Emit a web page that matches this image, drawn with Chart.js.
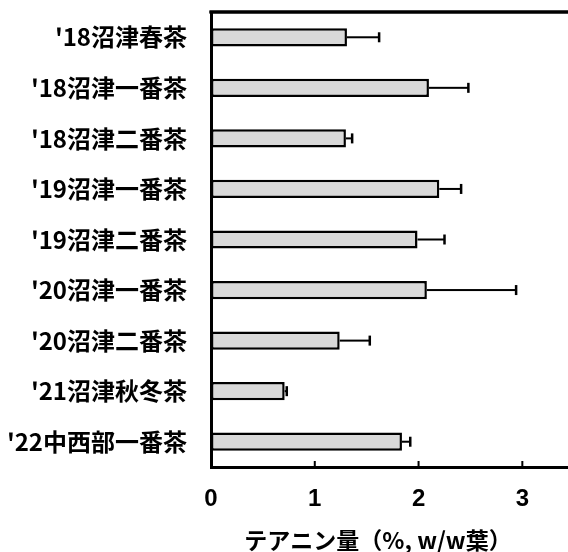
<!DOCTYPE html>
<html>
<head>
<meta charset="utf-8">
<script src="https://cdn.jsdelivr.net/npm/chart.js@4"></script>
<style>
  html, body { margin: 0; padding: 0; background: #fff; }
  canvas { display: block; }
</style>
</head>
<body>
<canvas id="theanineChart" width="568" height="552"></canvas>
<script>
// テアニン量 (%, w/w葉) - 平均値と標準偏差
var categories = ["'18沼津春茶", "'18沼津一番茶", "'18沼津二番茶", "'19沼津一番茶", "'19沼津二番茶",
                  "'20沼津一番茶", "'20沼津二番茶", "'21沼津秋冬茶", "'22中西部一番茶"];
var means = [1.31, 2.10, 1.30, 2.20, 1.99, 2.08, 1.24, 0.71, 1.84];
var errors = [0.31, 0.38, 0.06, 0.21, 0.26, 0.86, 0.29, 0.02, 0.08];
var xTicks = [0, 1, 2, 3];
var axisTitle = "テアニン量（%, w/w葉）";

var jpFont = "'Noto Sans CJK JP', 'Noto Sans', sans-serif";

function drawTopFrame(chart) {
    var ctx = chart.ctx;
    var xs = chart.scales.x;
    var ys = chart.scales.y;
    ctx.save();
    ctx.fillStyle = '#000';
    ctx.fillRect(xs.left - 1.5, ys.top - 1.5, 400, 3);
    ctx.restore();
}

// top frame line, error bars, inside tick marks and the axis title
var extras = {
    id: 'extras',
    afterDatasetsDraw: function(chart) {
        drawTopFrame(chart);
    },
    afterDraw: function(chart) {
        var ctx = chart.ctx;
        var xs = chart.scales.x;
        var ys = chart.scales.y;
        var bars = chart.getDatasetMeta(0).data;
        ctx.save();
        ctx.fillStyle = '#000';
        bars.forEach(function(bar, i) {
            var x0 = xs.getPixelForValue(means[i]);
            var x1 = xs.getPixelForValue(means[i] + errors[i]);
            ctx.fillRect(x0, bar.y - 1, x1 - x0, 2);
            ctx.fillRect(x1 - 1.25, bar.y - 5, 2.5, 10);
        });
        xTicks.forEach(function(v) {
            if (v === 0) return;
            var x = xs.getPixelForValue(v);
            ctx.fillRect(x - 1, ys.bottom - 6, 2, 6);
        });
        ctx.font = "bold 23px " + jpFont;
        ctx.textAlign = 'center';
        ctx.textBaseline = 'middle';
        ctx.fillText(axisTitle, 378, 540);
        ctx.restore();
        drawTopFrame(chart);
    }
};

function noEdgePadding(scale) {
    scale.paddingTop = 0;
    scale.paddingBottom = 0;
    scale.paddingLeft = 0;
    scale.paddingRight = 0;
}

var chart = new Chart(document.getElementById('theanineChart'), {
    type: 'bar',
    data: {
        labels: categories,
        datasets: [{
            data: means,
            backgroundColor: '#d9d9d9',
            borderColor: '#000',
            borderWidth: 2.5,
            borderSkipped: false,
            categoryPercentage: 1,
            barPercentage: 0.36
        }]
    },
    options: {
        indexAxis: 'y',
        responsive: false,
        devicePixelRatio: 1,
        animation: false,
        layout: { padding: { top: 12, right: 0, left: 0, bottom: 0 } },
        plugins: {
            legend: { display: false },
            tooltip: { enabled: false }
        },
        scales: {
            x: {
                min: 0,
                max: 3.44,
                afterBuildTicks: function(scale) {
                    scale.ticks = xTicks.map(function(v) { return { value: v }; });
                },
                afterFit: function(scale) {
                    scale.height = 85;
                    noEdgePadding(scale);
                },
                grid: { display: false, drawTicks: false },
                border: { display: true, color: '#000', width: 3 },
                ticks: {
                    color: '#000',
                    padding: 18,
                    maxRotation: 0,
                    font: { family: "'Liberation Sans', Arial, sans-serif", size: 24, weight: 'bold' }
                }
            },
            y: {
                afterFit: function(scale) {
                    scale.width = 211;
                    noEdgePadding(scale);
                },
                grid: { display: false, drawTicks: false },
                border: { display: true, color: '#000', width: 3 },
                ticks: {
                    color: '#000',
                    padding: 24,
                    font: { family: jpFont, size: 24, weight: 'bold' }
                }
            }
        }
    },
    plugins: [extras]
});
</script>
</body>
</html>
